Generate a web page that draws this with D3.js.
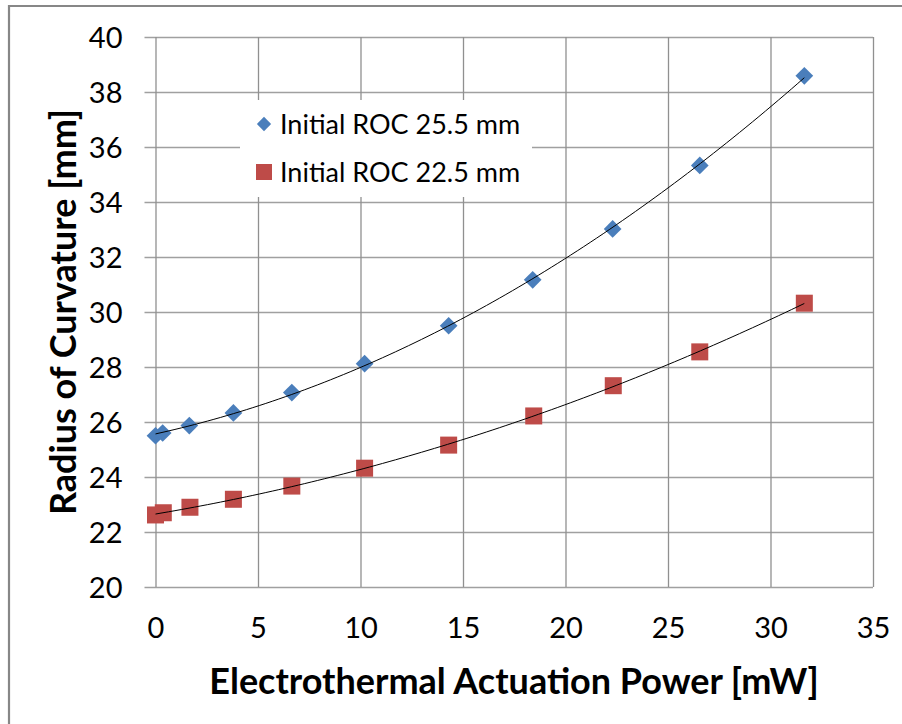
<!DOCTYPE html>
<html>
<head>
<meta charset="utf-8">
<script src="https://cdn.jsdelivr.net/npm/d3@7"></script>
<style>
  body { margin: 0; background: #fff; }
  text { font-family: Lato, "Open Sans", sans-serif; fill: #000; }
</style>
</head>
<body>
<svg id="chart" width="902" height="724"></svg>
<script>
// power values [mW]
var powerA = [0, 0.35, 1.65, 3.8, 6.65, 10.2, 14.3, 18.4, 22.3, 26.55, 31.65];
var rocA = [25.5, 25.6, 25.87, 26.33, 27.07, 28.12, 29.5, 31.17, 33.02, 35.33, 38.59];

var powerB = [0, 0.38, 1.68, 3.8, 6.65, 10.2, 14.3, 18.45, 22.33, 26.55, 31.65];
var rocB = [22.62, 22.7, 22.9, 23.19, 23.67, 24.32, 25.16, 26.22, 27.32, 28.55, 30.32];

var seriesNames = ["Initial ROC 25.5 mm", "Initial ROC 22.5 mm"];
var xTicks = [0, 5, 10, 15, 20, 25, 30, 35];
var yTicks = [20, 22, 24, 26, 28, 30, 32, 34, 36, 38, 40];

var svg = d3.select("#chart");

var x = d3.scaleLinear().domain([0, 35]).range([155.5, 873]);
var y = d3.scaleLinear().domain([20, 40]).range([587, 37]);

// outer frame (left + top edges only are visible)
svg.append("path")
    .attr("d", "M9,724 V6 H902")
    .attr("fill", "none")
    .attr("stroke", "#878787")
    .attr("stroke-width", 2.2);

// horizontal gridlines with small ticks sticking out left
svg.append("g")
    .attr("class", "y grid")
    .attr("transform", "translate(" + x(0) + ",0)")
    .call(d3.axisLeft(y).tickValues(yTicks).tickSize(-(x(35) - x(0))).tickSizeOuter(0).tickFormat(""))
    .call(function(g) { g.select(".domain").remove(); })
    .selectAll("line")
      .attr("x1", -11)
      .attr("stroke", "#a0a0a0")
      .attr("stroke-width", 1.3);

// vertical gridlines
svg.append("g")
    .attr("class", "x grid")
    .attr("transform", "translate(0," + y(20) + ")")
    .call(d3.axisBottom(x).tickValues(xTicks).tickSize(-(y(20) - y(40))).tickSizeOuter(0).tickFormat(""))
    .call(function(g) { g.select(".domain").remove(); })
    .selectAll("line")
      .attr("stroke", "#909090")
      .attr("stroke-width", 1.3);

// tick labels
svg.append("g")
    .attr("class", "y axis")
    .attr("transform", "translate(" + x(0) + ",0)")
    .call(d3.axisLeft(y).tickValues(yTicks).tickSize(0).tickPadding(33).tickFormat(d3.format("d")))
    .call(function(g) { g.select(".domain").remove(); })
    .selectAll("text")
      .style("font-size", "29px")
      .attr("dy", "0.35em");

svg.append("g")
    .attr("class", "x axis")
    .attr("transform", "translate(0," + y(20) + ")")
    .call(d3.axisBottom(x).tickValues(xTicks).tickSize(0).tickPadding(30).tickFormat(d3.format("d")))
    .call(function(g) { g.select(".domain").remove(); })
    .selectAll("text")
      .style("font-size", "29px");

// axis titles
svg.append("text")
    .attr("x", 514)
    .attr("y", 694)
    .attr("text-anchor", "middle")
    .style("font-size", "36px")
    .style("font-weight", "bold")
    .text("Electrothermal Actuation Power [mW]");

svg.append("text")
    .attr("transform", "translate(76,312) rotate(-90)")
    .attr("text-anchor", "middle")
    .style("font-size", "36px")
    .style("font-weight", "bold")
    .text("Radius of Curvature [mm]");

// legend (white box hides the grid behind it)
var legend = svg.append("g").attr("class", "legend");
legend.append("rect")
    .attr("x", 240).attr("y", 100)
    .attr("width", 292).attr("height", 97)
    .attr("fill", "#fff");

legend.append("path")
    .attr("d", d3.symbol().type(d3.symbolDiamond2).size(130))
    .attr("transform", "translate(264,124)")
    .attr("fill", "#4a7ebb");
legend.append("rect")
    .attr("x", 256).attr("y", 164).attr("width", 16).attr("height", 16)
    .attr("fill", "#be4b48");

legend.selectAll("text.lab")
    .data(seriesNames)
    .enter().append("text")
    .attr("class", "lab")
    .attr("x", 280)
    .attr("y", function(d, i) { return 134 + i * 48; })
    .style("font-size", "27px")
    .text(function(d) { return d; });

// quadratic least-squares trendline (like the Excel polynomial trend)
function polyFit(xs, ys) {
  var n = xs.length, s = [0, 0, 0, 0, 0], t = [0, 0, 0];
  for (var i = 0; i < n; i++) {
    var p = 1;
    for (var k = 0; k < 5; k++) { s[k] += p; if (k < 3) t[k] += p * ys[i]; p *= xs[i]; }
  }
  var M = [[s[0], s[1], s[2], t[0]], [s[1], s[2], s[3], t[1]], [s[2], s[3], s[4], t[2]]];
  for (var c = 0; c < 3; c++) {
    for (var r = c + 1; r < 3; r++) {
      var f = M[r][c] / M[c][c];
      for (var j = c; j < 4; j++) M[r][j] -= f * M[c][j];
    }
  }
  var a = [0, 0, 0];
  for (var r2 = 2; r2 >= 0; r2--) {
    var v = M[r2][3];
    for (var j2 = r2 + 1; j2 < 3; j2++) v -= M[r2][j2] * a[j2];
    a[r2] = v / M[r2][r2];
  }
  return function(xv) { return a[0] + a[1] * xv + a[2] * xv * xv; };
}

function drawTrend(xs, ys) {
  var fit = polyFit(xs, ys);
  var xmax = d3.max(xs);
  var pts = d3.range(0, 101).map(function(i) { return xmax * i / 100; });
  svg.append("path")
      .datum(pts)
      .attr("fill", "none")
      .attr("stroke", "#000")
      .attr("stroke-width", 1)
      .attr("d", d3.line()
        .x(function(d) { return x(d); })
        .y(function(d) { return y(fit(d)); }));
}

function drawSeries(xs, ys, kind, color) {
  var data = xs.map(function(d, i) { return { p: d, r: ys[i] }; });
  if (kind == "diamond") {
    svg.selectAll(".ptA")
        .data(data)
        .enter().append("path")
        .attr("class", "ptA")
        .attr("d", d3.symbol().type(d3.symbolDiamond2).size(200))
        .attr("transform", function(d) { return "translate(" + x(d.p) + "," + y(d.r) + ")"; })
        .attr("fill", color);
  } else {
    svg.selectAll(".ptB")
        .data(data)
        .enter().append("rect")
        .attr("class", "ptB")
        .attr("x", function(d) { return x(d.p) - 8.5; })
        .attr("y", function(d) { return y(d.r) - 8.5; })
        .attr("width", 17)
        .attr("height", 17)
        .attr("fill", color);
  }
}

drawSeries(powerA, rocA, "diamond", "#4a7ebb");
drawSeries(powerB, rocB, "square", "#be4b48");
drawTrend(powerA, rocA);
drawTrend(powerB, rocB);
</script>
</body>
</html>
